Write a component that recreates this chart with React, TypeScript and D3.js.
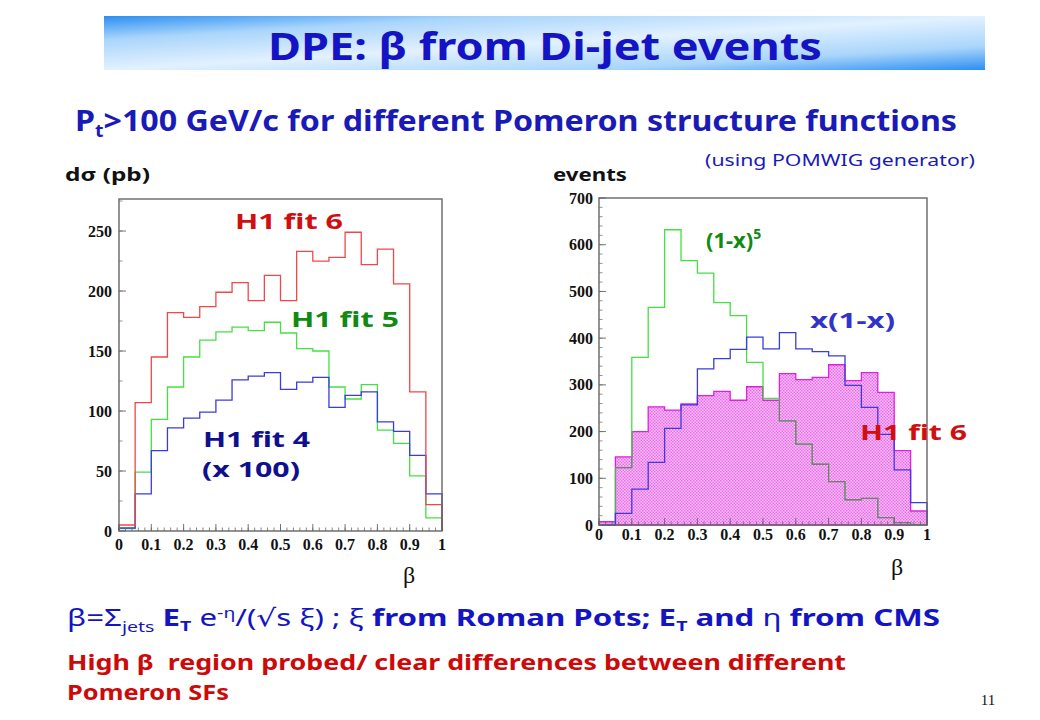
import React from "react";
import * as d3 from "d3";

// ---------- data (20 bins of width 0.05 in beta) ----------
const binEdges = d3.range(0, 1.0001, 0.05).map((v) => +v.toFixed(2));
const leftFit6 = [5, 107, 145, 182, 178, 187, 199, 207, 192, 213, 192, 233, 225, 228, 249, 222, 235, 206, 116, 22];
const leftFit5 = [2, 49, 93, 120, 145, 159, 166, 170, 167, 174, 165, 152, 150, 120, 110, 122, 84, 73, 46, 11];
const leftFit4 = [2.5, 31, 67, 86, 94, 99, 109, 126, 129, 132, 118, 124, 128, 103, 113, 116, 91, 83, 63, 31];
const rightPow5 = [0, 123, 359, 466, 632, 566, 539, 476, 448, 348, 271, 223, 173, 130, 93, 54, 57, 16, 5, 0];
const rightX1x = [0, 25, 77, 134, 207, 257, 334, 356, 376, 402, 377, 412, 377, 371, 362, 299, 252, 194, 118, 48];
const rightFit6 = [7, 146, 200, 253, 246, 259, 277, 286, 267, 296, 267, 324, 311, 316, 343, 309, 326, 284, 159, 30];
const xTicks = [0, 0.1, 0.2, 0.3, 0.4, 0.5, 0.6, 0.7, 0.8, 0.9, 1];
const xTickLabels = ["0", "0.1", "0.2", "0.3", "0.4", "0.5", "0.6", "0.7", "0.8", "0.9", "1"];
const leftYTicks = [0, 50, 100, 150, 200, 250];
const rightYTicks = [0, 100, 200, 300, 400, 500, 600, 700];

const COMIC = "'Comic Sans MS', 'Noto Sans', 'DejaVu Sans', sans-serif";
const SERIF = "'Liberation Serif', 'DejaVu Serif', serif";

function stairPoints(vals: number[]): [number, number][] {
  const pts: [number, number][] = [[binEdges[0], 0]];
  vals.forEach((v, i) => {
    pts.push([binEdges[i], v]);
    pts.push([binEdges[i + 1], v]);
  });
  pts.push([binEdges[binEdges.length - 1], 0]);
  return pts;
}

type Series = { vals: number[]; color: string; fill?: boolean; clipGrey?: boolean };

function Histo(props: {
  x0: number; x1: number; yBottom: number; yTop: number; yMax: number;
  yTickVals: number[]; yMinorStep: number; id: string; series: Series[];
  xLabelY: number; yLabelX: number;
}) {
  const { x0, x1, yBottom, yTop, yMax, yTickVals, yMinorStep, id, series, xLabelY, yLabelX } = props;
  const x = d3.scaleLinear().domain([0, 1]).range([x0, x1]);
  const y = d3.scaleLinear().domain([0, yMax]).range([yBottom, yTop]);
  const line = d3.line<[number, number]>().x((d) => x(d[0])).y((d) => y(d[1]));
  const area = d3.area<[number, number]>().x((d) => x(d[0])).y0(y(0)).y1((d) => y(d[1]));
  const xMinor = d3.range(0, 1.0001, 0.02);
  const yMinor = d3.range(0, yMax + 0.001, yMinorStep);
  const fillSeries = series.find((s) => s.fill);
  return (
    <g>
      {fillSeries && (
        <defs>
          <clipPath id={id + "clip"}>
            <path d={area(stairPoints(fillSeries.vals)) || ""} />
          </clipPath>
        </defs>
      )}
      {series.map((s, i) =>
        s.fill ? (
          <path key={"f" + i} d={area(stairPoints(s.vals)) || ""} fill="url(#pinkHatch)" stroke={s.color} strokeWidth={1.3} />
        ) : null
      )}
      {series.map((s, i) =>
        s.fill ? null : (
          <g key={"l" + i}>
            <path d={line(stairPoints(s.vals)) || ""} fill="none" stroke={s.color} strokeWidth={1.3} />
            {s.clipGrey && fillSeries && (
              <path d={line(stairPoints(s.vals)) || ""} fill="none" stroke="#7a7a7a" strokeWidth={1.3} clipPath={`url(#${id}clip)`} />
            )}
          </g>
        )
      )}
      <rect x={x0} y={yTop} width={x1 - x0} height={yBottom - yTop} fill="none" stroke="#666" strokeWidth={1.4} />
      {xMinor.map((t, i) => (
        <line key={"xm" + i} x1={x(t)} x2={x(t)} y1={yBottom} y2={yBottom - 3.5} stroke="#666" strokeWidth={0.8} />
      ))}
      {xTicks.map((t, i) => (
        <line key={"xt" + i} x1={x(t)} x2={x(t)} y1={yBottom} y2={yBottom - 7} stroke="#666" strokeWidth={0.9} />
      ))}
      {yMinor.map((t, i) => (
        <line key={"ym" + i} x1={x0} x2={x0 + 3.5} y1={y(t)} y2={y(t)} stroke="#777" strokeWidth={0.8} />
      ))}
      {yTickVals.map((t, i) => (
        <line key={"yt" + i} x1={x0} x2={x0 + 7} y1={y(t)} y2={y(t)} stroke="#666" strokeWidth={0.9} />
      ))}
      {xTicks.map((t, i) => (
        <text key={"xl" + i} x={x(t)} y={xLabelY} textAnchor="middle" fontFamily={SERIF} fontWeight="bold" fontSize={16} fill="#111">
          {xTickLabels[i]}
        </text>
      ))}
      {yTickVals.map((t, i) => (
        <text key={"yl" + i} x={yLabelX} y={y(t) + 5.5} textAnchor="end" fontFamily={SERIF} fontWeight="bold" fontSize={16} fill="#111">
          {String(t)}
        </text>
      ))}
    </g>
  );
}

export default function App() {
  return (
    <svg width={1040} height={720} viewBox="0 0 1040 720" style={{ position: "absolute", left: 0, top: 0, background: "#fff" }}>
      <defs>
        <linearGradient id="banner" x1="0" y1="0" x2="1" y2="1">
          <stop offset="0" stopColor="#2b8ef2" />
          <stop offset="0.22" stopColor="#a9d5fb" />
          <stop offset="0.5" stopColor="#e2f1ff" />
          <stop offset="0.78" stopColor="#a9d5fb" />
          <stop offset="1" stopColor="#2b8ef2" />
        </linearGradient>
        <pattern id="pinkHatch" width={3} height={3} patternUnits="userSpaceOnUse">
          <rect width={3} height={3} fill="#fac4fa" />
          <rect width={1.5} height={1.5} fill="#ea6cea" />
          <rect x={1.5} y={1.5} width={1.5} height={1.5} fill="#ea6cea" />
        </pattern>
      </defs>
      <rect width={1040} height={720} fill="#fff" />
      {/* title banner */}
      <rect x={104} y={16} width={881} height={54} fill="url(#banner)" />
      <text x={545} y={60} textAnchor="middle" fontFamily={COMIC} fontWeight="bold" fontSize={38} fill="#1414c4" textLength={554} lengthAdjust="spacingAndGlyphs">
        DPE: β from Di-jet events
      </text>
      <text x={75} y={131} fontFamily={COMIC} fontWeight="bold" fontSize={28} fill="#1a1ab8" textLength={882} lengthAdjust="spacingAndGlyphs">
        P<tspan fontSize={17} dy={6}>t</tspan><tspan dy={-6}>&gt;100 GeV/c for different Pomeron structure functions</tspan>
      </text>
      <text x={705} y={166} fontFamily={COMIC} fontSize={16} fill="#1a1ab8" textLength={270} lengthAdjust="spacingAndGlyphs">
        (using POMWIG generator)
      </text>
      <text x={65} y={181} fontFamily={COMIC} fontWeight="bold" fontSize={18} fill="#111" textLength={85} lengthAdjust="spacingAndGlyphs">
        dσ (pb)
      </text>
      <text x={553} y={181} fontFamily={COMIC} fontWeight="bold" fontSize={18} fill="#111" textLength={74} lengthAdjust="spacingAndGlyphs">
        events
      </text>

      {/* left histogram */}
      <Histo
        id="L" x0={119} x1={442} yBottom={531} yTop={199} yMax={276.7}
        yTickVals={leftYTicks} yMinorStep={25} xLabelY={550} yLabelX={112}
        series={[
          { vals: leftFit5, color: "#44e044" },
          { vals: leftFit4, color: "#3b3be0" },
          { vals: leftFit6, color: "#f04848" },
        ]}
      />
      {/* right histogram */}
      <Histo
        id="R" x0={599} x1={927} yBottom={525} yTop={198} yMax={700}
        yTickVals={rightYTicks} yMinorStep={20} xLabelY={540} yLabelX={593}
        series={[
          { vals: rightFit6, color: "#e020e0", fill: true },
          { vals: rightPow5, color: "#44e044", clipGrey: true },
          { vals: rightX1x, color: "#3b3be0" },
        ]}
      />

      {/* in-plot labels */}
      <text x={235} y={229} fontFamily={COMIC} fontWeight="bold" fontSize={22} fill="#d01010" textLength={108} lengthAdjust="spacingAndGlyphs">H1 fit 6</text>
      <text x={291} y={327} fontFamily={COMIC} fontWeight="bold" fontSize={22} fill="#108a10" textLength={108} lengthAdjust="spacingAndGlyphs">H1 fit 5</text>
      <text x={203} y={447} fontFamily={COMIC} fontWeight="bold" fontSize={22} fill="#10108e" textLength={107} lengthAdjust="spacingAndGlyphs">H1 fit 4</text>
      <text x={202} y={477} fontFamily={COMIC} fontWeight="bold" fontSize={22} fill="#10108e" textLength={98} lengthAdjust="spacingAndGlyphs">(x 100)</text>
      <text x={706} y={248} fontFamily={COMIC} fontWeight="bold" fontSize={22} fill="#108a10">
        (1-x)<tspan fontSize={14} dy={-9}>5</tspan>
      </text>
      <text x={810} y={328} fontFamily={COMIC} fontWeight="bold" fontSize={22} fill="#3333c8" textLength={85} lengthAdjust="spacingAndGlyphs">x(1-x)</text>
      <text x={860} y={440} fontFamily={COMIC} fontWeight="bold" fontSize={22} fill="#d01010" textLength={107} lengthAdjust="spacingAndGlyphs">H1 fit 6</text>

      {/* axis titles */}
      <text x={409} y={583} textAnchor="middle" fontFamily={SERIF} fontSize={24} fill="#111">β</text>
      <text x={897} y={575} textAnchor="middle" fontFamily={SERIF} fontSize={24} fill="#111">β</text>

      {/* bottom text */}
      <text x={67} y={626} fontFamily={COMIC} fontSize={24} fill="#1414c4" textLength={873} lengthAdjust="spacingAndGlyphs">
        <tspan>β=Σ</tspan>
        <tspan fontSize={15} dy={6}>jets</tspan>
        <tspan dy={-6} fontWeight="bold"> E</tspan>
        <tspan fontWeight="bold" fontSize={15} dy={5}>T</tspan>
        <tspan dy={-5}> e</tspan>
        <tspan fontSize={15} dy={-8}>-η</tspan>
        <tspan dy={8}>/(√s ξ) ; ξ </tspan>
        <tspan fontWeight="bold">from Roman Pots; E</tspan>
        <tspan fontWeight="bold" fontSize={15} dy={5}>T</tspan>
        <tspan fontWeight="bold" dy={-5}> and </tspan>
        <tspan>η</tspan>
        <tspan fontWeight="bold"> from CMS</tspan>
      </text>
      <text x={67} y={670} fontFamily={COMIC} fontWeight="bold" fontSize={22} fill="#cc0a0a" textLength={779} lengthAdjust="spacingAndGlyphs">
        {"High β\u00a0 region probed/ clear differences between different"}
      </text>
      <text x={67} y={700} fontFamily={COMIC} fontWeight="bold" fontSize={22} fill="#cc0a0a" textLength={162} lengthAdjust="spacingAndGlyphs">
        Pomeron SFs
      </text>
      <text x={988} y={705} textAnchor="middle" fontFamily={SERIF} fontSize={15} fill="#111">11</text>
    </svg>
  );
}
